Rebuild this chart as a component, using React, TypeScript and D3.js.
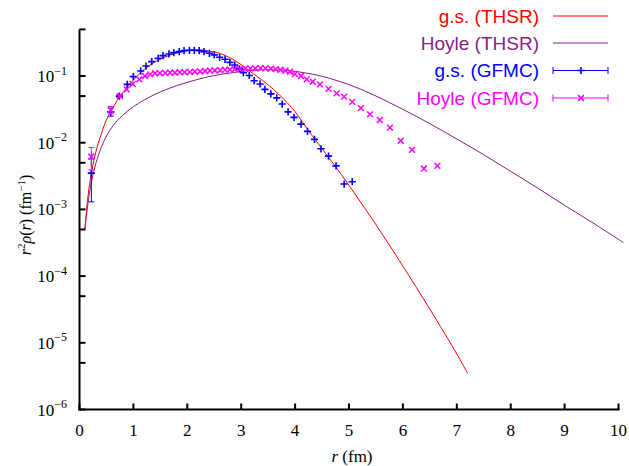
import React from "react";
import * as d3 from "d3";

const W = 629;
const H = 466;

// THSR curves (r in fm, r^2 rho in fm^-1)
const gsThsrR = [0.1, 0.15, 0.2, 0.3, 0.4, 0.5, 0.6, 0.7, 0.8, 0.9, 1.0, 1.2, 1.4, 1.6, 1.8, 2.0, 2.2, 2.4, 2.6, 2.8, 3.0, 3.2, 3.4, 3.6, 3.8, 4.0, 4.25, 4.5, 4.75, 5.0, 5.25, 5.5, 6.0, 6.5, 7.0, 7.2];
const gsThsrV = [5.1e-4, 1.4e-3, 2.8e-3, 7.1e-3, 1.32e-2, 2.2e-2, 3.1e-2, 4.3e-2, 5.6e-2, 7.1e-2, 8.7e-2, 0.126, 0.162, 0.195, 0.221, 0.24, 0.245, 0.237, 0.219, 0.186, 0.148, 0.112, 0.085, 0.063, 0.044, 0.029, 0.0151, 8.1e-3, 4.4e-3, 2.3e-3, 1.17e-3, 5.9e-4, 1.41e-4, 3.2e-5, 6.8e-6, 3.5e-6];

const hoyleThsrR = [0.1, 0.15, 0.2, 0.3, 0.4, 0.5, 0.6, 0.7, 0.8, 0.9, 1.0, 1.2, 1.4, 1.6, 1.8, 2.0, 2.2, 2.4, 2.7, 3.0, 3.3, 3.6, 3.9, 4.2, 4.5, 4.8, 5.1, 5.5, 6.0, 6.5, 7.0, 7.5, 8.0, 8.5, 9.0, 9.5, 10.0, 10.09];
const hoyleThsrV = [5.1e-4, 1.12e-3, 2.09e-3, 4.79e-3, 8.3e-3, 1.26e-2, 1.7e-2, 2.14e-2, 2.57e-2, 3.02e-2, 3.47e-2, 4.37e-2, 5.31e-2, 6.24e-2, 7.16e-2, 8.04e-2, 8.91e-2, 9.77e-2, 0.108, 0.117, 0.123, 0.1245, 0.12, 0.111, 0.099, 0.0841, 0.0692, 0.0501, 0.0316, 0.0193, 0.01135, 6.6e-3, 3.72e-3, 2.09e-3, 1.15e-3, 6.46e-4, 3.55e-4, 3.2e-4];

// GFMC points
const gsGfmcR = [0.22, 0.58, 0.74, 0.886, 0.998, 1.136, 1.234, 1.34, 1.46, 1.55, 1.66, 1.75, 1.85, 1.94, 2.04, 2.13, 2.22, 2.31, 2.41, 2.5, 2.6, 2.7, 2.79, 2.88, 2.97, 3.04, 3.15, 3.24, 3.35, 3.44, 3.55, 3.66, 3.76, 3.87, 3.98, 4.11, 4.23, 4.36, 4.48, 4.62, 4.76, 4.91, 5.06];
const gsGfmcV = [0.0035, 0.029, 0.05, 0.075, 0.098, 0.119, 0.141, 0.164, 0.184, 0.202, 0.214, 0.224, 0.232, 0.24, 0.243, 0.243, 0.24, 0.232, 0.219, 0.207, 0.191, 0.178, 0.16, 0.146, 0.128, 0.112, 0.102, 0.085, 0.076, 0.063, 0.054, 0.047, 0.038, 0.029, 0.024, 0.019, 0.0148, 0.0112, 0.0081, 0.0063, 0.0045, 0.0024, 0.0026];
const gsGfmcE = [0.0022, 0.004, 0.002, 0, 0, 0, 0, 0, 0, 0, 0, 0, 0, 0, 0, 0, 0, 0, 0, 0, 0, 0, 0, 0, 0, 0, 0, 0, 0, 0, 0, 0, 0, 0, 0, 0, 0, 0, 0, 0, 0, 0, 0];

const hoyleGfmcR = [0.22, 0.58, 0.75, 0.876, 0.987, 1.11, 1.215, 1.31, 1.4, 1.49, 1.59, 1.68, 1.77, 1.86, 1.95, 2.05, 2.14, 2.24, 2.33, 2.42, 2.51, 2.61, 2.7, 2.79, 2.88, 2.98, 3.07, 3.17, 3.26, 3.36, 3.45, 3.55, 3.64, 3.73, 3.82, 3.905, 3.998, 4.11, 4.215, 4.327, 4.46, 4.62, 4.77, 4.91, 5.06, 5.22, 5.39, 5.57, 5.76, 5.96, 6.17, 6.39, 6.64];
const hoyleGfmcV = [0.0062, 0.031, 0.05, 0.063, 0.076, 0.089, 0.1, 0.106, 0.11, 0.11, 0.111, 0.112, 0.112, 0.114, 0.114, 0.115, 0.116, 0.117, 0.119, 0.12, 0.121, 0.122, 0.124, 0.125, 0.126, 0.128, 0.129, 0.13, 0.13, 0.131, 0.13, 0.129, 0.127, 0.124, 0.12, 0.116, 0.107, 0.1, 0.089, 0.082, 0.075, 0.064, 0.055, 0.049, 0.041, 0.033, 0.0266, 0.0219, 0.0168, 0.0107, 0.0078, 0.0041, 0.0045];
const hoyleGfmcE = [0.0023, 0.004, 0.002, 0, 0, 0, 0, 0, 0, 0, 0, 0, 0, 0, 0, 0, 0, 0, 0, 0, 0, 0, 0, 0, 0, 0, 0, 0, 0, 0, 0, 0, 0, 0, 0, 0, 0, 0, 0, 0, 0, 0, 0, 0, 0, 0, 0, 0, 0, 0, 0, 0, 0];

const xTicks = [0, 1, 2, 3, 4, 5, 6, 7, 8, 9, 10];
const yMajorExp = [-6, -5, -4, -3, -2, -1];
const yMinorTicks = [5e-6, 5e-5, 5e-4, 5e-3, 5e-2, 5e-1];

const legendLabels = ["g.s. (THSR)", "Hoyle (THSR)", "g.s. (GFMC)", "Hoyle (GFMC)"];
const RED = "#ff0000";
const PURPLE = "#861f86";
const BLUE = "#0000ff";
const MAGENTA = "#ff00ff";

const x = d3.scaleLinear().domain([0, 10]).range([79.5, 618.5]);
const y = d3.scaleLog().domain([1e-6, 0.5]).range([409.5, 409.5 - 66.7 * (6 + Math.log10(0.5))]);

const line = d3
  .line<[number, number]>()
  .x((d) => x(d[0]))
  .y((d) => y(d[1]))
  .curve(d3.curveCatmullRom.alpha(0.5));

const Plus = ({ cx, cy, c }: { cx: number; cy: number; c: string }) => (
  <path d={`M${cx - 3.6},${cy}H${cx + 3.6}M${cx},${cy - 3.6}V${cy + 3.6}`} stroke={c} strokeWidth={1.6} />
);
const Cross = ({ cx, cy, c }: { cx: number; cy: number; c: string }) => (
  <path d={`M${cx - 2.9},${cy - 2.9}L${cx + 2.9},${cy + 2.9}M${cx - 2.9},${cy + 2.9}L${cx + 2.9},${cy - 2.9}`} stroke={c} strokeWidth={1.5} />
);

const ErrBar = ({ r, v, e, c }: { r: number; v: number; e: number; c: string }) => {
  if (!e) return null;
  const cx = x(r);
  const y1 = y(v + e);
  const y2 = y(Math.max(v - e, 1e-7));
  return (
    <path d={`M${cx},${y1}V${y2}M${cx - 3},${y1}H${cx + 3}M${cx - 3},${y2}H${cx + 3}`} stroke={c} strokeWidth={1} fill="none" />
  );
};

export default function App() {
  const gsLine = line(gsThsrR.map((r, i) => [r, gsThsrV[i]] as [number, number]))!;
  const hoyleLine = line(hoyleThsrR.map((r, i) => [r, hoyleThsrV[i]] as [number, number]))!;
  const serif = "Liberation Serif, Times New Roman, Times, DejaVu Serif, serif";
  const sans = "Liberation Sans, Arial, Helvetica, sans-serif";
  const legendY = [16, 43, 70.5, 98];
  const legendColors = [RED, PURPLE, BLUE, MAGENTA];
  const lx1 = 553;
  const lx2 = 608;
  const lmid = 581;
  return (
    <svg width={W} height={H} style={{ position: "absolute", left: 0, top: 0, background: "#fff" }}>
      <rect width={W} height={H} fill="#fff" />
      {/* curves */}
      <path d={hoyleLine} fill="none" stroke={PURPLE} strokeWidth={1} />
      <path d={gsLine} fill="none" stroke={RED} strokeWidth={1} />
      {/* GFMC g.s. */}
      {gsGfmcR.map((r, i) => (
        <g key={"b" + i}>
          <ErrBar r={r} v={gsGfmcV[i]} e={gsGfmcE[i]} c={BLUE} />
          <Plus cx={x(r)} cy={y(gsGfmcV[i])} c={BLUE} />
        </g>
      ))}
      {/* GFMC Hoyle */}
      {hoyleGfmcR.map((r, i) => (
        <g key={"m" + i}>
          <ErrBar r={r} v={hoyleGfmcV[i]} e={hoyleGfmcE[i]} c={MAGENTA} />
          <Cross cx={x(r)} cy={y(hoyleGfmcV[i])} c={MAGENTA} />
        </g>
      ))}
      {/* axes */}
      <line x1={x(0)} x2={x(0)} y1={y(0.5)} y2={y(1e-6) + 1} stroke="#000" strokeWidth={2} />
      <line x1={x(0) - 1} x2={x(10) + 1} y1={y(1e-6)} y2={y(1e-6)} stroke="#000" strokeWidth={2} />
      {xTicks.map((t) => (
        <g key={"xt" + t}>
          <line x1={x(t)} x2={x(t)} y1={y(1e-6)} y2={y(1e-6) - 6} stroke="#000" strokeWidth={2} />
          <text x={x(t)} y={435.5} textAnchor="middle" fontFamily={serif} fontSize={17}>
            {t}
          </text>
        </g>
      ))}
      {yMajorExp.map((e) => (
        <g key={"ym" + e}>
          <line x1={x(0)} x2={x(0) + 6} y1={y(Math.pow(10, e))} y2={y(Math.pow(10, e))} stroke="#000" strokeWidth={2} />
          <text x={67} y={y(Math.pow(10, e)) + 6} textAnchor="end" fontFamily={serif} fontSize={17}>
            10
            <tspan dy={-7.5} fontSize={12}>
              {"\u2212" + Math.abs(e)}
            </tspan>
          </text>
        </g>
      ))}
      {yMinorTicks.map((t) => (
        <line key={"yn" + t} x1={x(0)} x2={x(0) + 6} y1={y(t)} y2={y(t)} stroke="#000" strokeWidth={2} />
      ))}
      {/* axis titles */}
      <text x={352} y={462} textAnchor="middle" fontFamily={serif} fontSize={17}>
        <tspan fontStyle="italic">r</tspan> (fm)
      </text>
      <text transform="translate(31,215) rotate(-90)" textAnchor="middle" fontFamily={serif} fontSize={16}>
        <tspan fontStyle="italic">r</tspan>
        <tspan dy={-6} fontSize={11}>2</tspan>
        <tspan dy={6} fontStyle="italic">ρ</tspan>(<tspan fontStyle="italic">r</tspan>) (fm
        <tspan dy={-6} fontSize={11}>{"\u22121"}</tspan>
        <tspan dy={6}>)</tspan>
      </text>
      {/* legend */}
      {legendLabels.map((lab, i) => (
        <g key={"lg" + i}>
          <text x={539} y={legendY[i] + 6.8} textAnchor="end" fontFamily={sans} fontSize={19} fill={legendColors[i]}>
            {lab}
          </text>
          <line x1={lx1} x2={lx2} y1={legendY[i]} y2={legendY[i]} stroke={legendColors[i]} strokeWidth={1} />
          {i >= 2 && (
            <path d={`M${lx1},${legendY[i] - 3.5}V${legendY[i] + 3.5}M${lx2},${legendY[i] - 3.5}V${legendY[i] + 3.5}`} stroke={legendColors[i]} strokeWidth={1} />
          )}
          {i === 2 && <Plus cx={lmid} cy={legendY[i]} c={BLUE} />}
          {i === 3 && <Cross cx={lmid} cy={legendY[i]} c={MAGENTA} />}
        </g>
      ))}
    </svg>
  );
}
